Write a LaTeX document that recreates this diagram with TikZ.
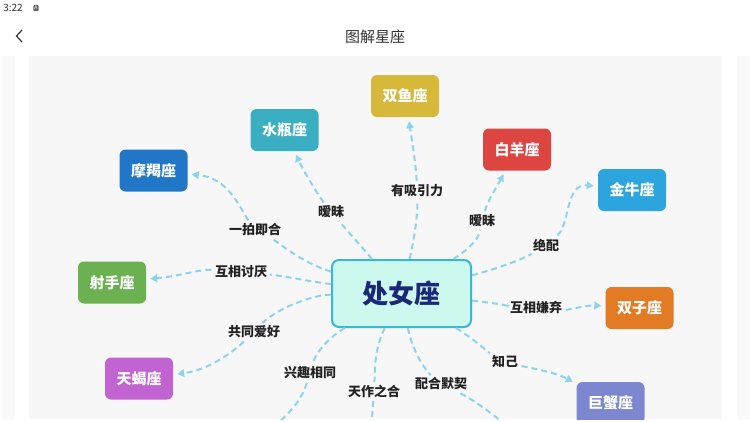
\documentclass[tikz,border=0pt]{standalone}
\usepackage{fontspec}
\setmainfont{Noto Sans CJK SC}
\usepackage{xcolor}
\usepackage{tikz}
\usetikzlibrary{positioning,arrows.meta}

\definecolor{panelgray}{HTML}{F7F7F7}
\definecolor{stripgray}{HTML}{F9F9F9}
\definecolor{linkblue}{HTML}{8DD3EE}
\definecolor{hubfill}{HTML}{CCF8EE}
\definecolor{hubline}{HTML}{3BB6D6}
\definecolor{hubtext}{HTML}{1B2878}
\definecolor{tagtext}{HTML}{222222}
\definecolor{barText}{HTML}{333333}
\definecolor{capC}{HTML}{2276C8}
\definecolor{aquC}{HTML}{3AAFC2}
\definecolor{pisC}{HTML}{D6B83B}
\definecolor{ariC}{HTML}{DD4541}
\definecolor{tauC}{HTML}{2CA5DE}
\definecolor{gemC}{HTML}{E27B23}
\definecolor{canC}{HTML}{7C87CF}
\definecolor{sagC}{HTML}{6BB152}
\definecolor{scoC}{HTML}{C263D2}

\begin{document}
\begin{tikzpicture}[
  x=1pt, y=-1pt,
  sign/.style={rectangle, rounded corners=6pt, minimum width=68pt, minimum height=42pt, inner sep=0pt, text=white, font=\bfseries\fontsize{15}{18}\selectfont},
  hub/.style={rectangle, draw=hubline, line width=2pt, fill=hubfill, rounded corners=7pt, minimum width=139pt, minimum height=67pt, text=hubtext, font=\bfseries\fontsize{26}{30}\selectfont},
  tag/.style={inner sep=2.5pt, text=tagtext, font=\bfseries\fontsize{13}{15}\selectfont},
  link/.style={draw=linkblue, line width=2pt, dash pattern=on 6pt off 4pt, -{Triangle[length=7pt,width=7.5pt]}, shorten >=4pt, shorten <=1pt}
]
\useasboundingbox[fill=white] (0,0) rectangle (750,421);

% status bar and title
\node[font=\fontsize{10}{11}\selectfont, text=barText] (clock) at (13,8) {3:22};
\node[fill=gray!80!black, rounded corners=1pt, inner sep=1.2pt, text=white, font=\fontsize{5}{5}\selectfont] (badge) at (36,8) {A};
\draw[barText, line width=1.2pt] (22,30) -- (16.5,36) -- (22,42);
\node[font=\fontsize{15}{18}\selectfont, text=barText] (title) at (375,37) {图解星座};

\fill[stripgray] (2,56) rectangle (15,419);
\fill[stripgray] (737,56) rectangle (750,419);
\fill[panelgray] (29,56) rectangle (722,419);

\begin{scope}
\clip (29,56) rectangle (722,419);

\node[hub] (virgo) at (401.5,293.5) {处女座};

\node[sign, fill=capC] (cap) at (153.5,170.5) {摩羯座};
\node[sign, fill=aquC] (aqu) at (284.5,130) {水瓶座};
\node[sign, fill=pisC] (pis) at (405,96) {双鱼座};
\node[sign, fill=ariC] (ari) at (517,149.5) {白羊座};
\node[sign, fill=tauC] (tau) at (632,190) {金牛座};
\node[sign, fill=gemC] (gem) at (639.5,308) {双子座};
\node[sign, fill=canC] (can) at (610.5,403) {巨蟹座};
\node[sign, fill=sagC] (sag) at (112,282.5) {射手座};
\node[sign, fill=scoC] (sco) at (139,378.5) {天蝎座};

\coordinate (offA) at (262,436);
\coordinate (offB) at (371,440);
\coordinate (offC) at (512,430);

\node[tag] (t1) at (255,230) {一拍即合};
\node[tag] (t2) at (241,272) {互相讨厌};
\node[tag] (t3) at (331,212) {暧昧};
\node[tag] (t4) at (417,191) {有吸引力};
\node[tag] (t5) at (482,221) {暧昧};
\node[tag] (t6) at (546,245) {绝配};
\node[tag] (t7) at (536,307) {互相嫌弃};
\node[tag] (t8) at (505,362) {知己};
\node[tag] (t9) at (254,332) {共同爱好};
\node[tag] (t10) at (310,373) {兴趣相同};
\node[tag] (t11) at (374,391) {天作之合};
\node[tag] (t12) at (441,384) {配合默契};

\draw[link] (virgo) .. controls (300,262) and (280,243) .. (t1) (t1) .. controls (238,205) and (228,178) .. (cap);
\draw[link] (virgo) .. controls (300,280) and (285,276) .. (t2) (t2) .. controls (200,269) and (180,276) .. (sag);
\draw[link] (virgo) .. controls (360,245) and (345,228) .. (t3) (t3) .. controls (318,195) and (303,170) .. (aqu);
\draw[link] (virgo) .. controls (414,240) and (418,215) .. (t4) (t4) .. controls (416,165) and (412,140) .. (pis);
\draw[link] (virgo) .. controls (470,248) and (478,240) .. (t5) (t5) .. controls (488,200) and (495,190) .. (ari);
\draw[link] (virgo) .. controls (500,268) and (525,258) .. (t6) (t6) .. controls (570,225) and (565,183) .. (tau);
\draw[link] (virgo) .. controls (495,303) and (510,306) .. (t7) (t7) .. controls (570,310) and (585,305) .. (gem);
\draw[link] (virgo) .. controls (475,340) and (488,352) .. (t8) (t8) .. controls (530,368) and (555,372) .. (can);
\draw[link] (virgo) .. controls (310,295) and (275,310) .. (t9) (t9) .. controls (235,350) and (210,370) .. (sco);
\draw[link] (virgo) .. controls (325,340) and (315,355) .. (t10) (t10) .. controls (303,395) and (295,410) .. (offA);
\draw[link] (virgo) .. controls (374,350) and (375,370) .. (t11) (t11) .. controls (373,405) and (372,415) .. (offB);
\draw[link] (virgo) .. controls (412,350) and (425,370) .. (t12) (t12) .. controls (470,398) and (485,408) .. (offC);
\end{scope}
\end{tikzpicture}
\end{document}
